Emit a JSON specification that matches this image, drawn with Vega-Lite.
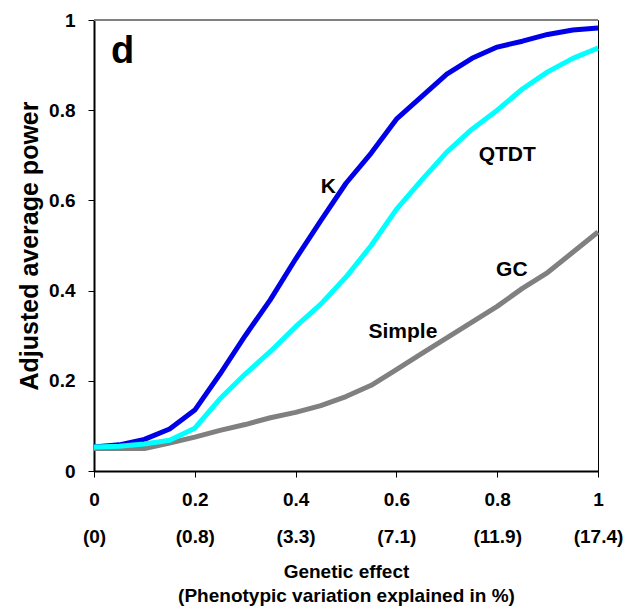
{
  "$schema": "https://vega.github.io/schema/vega-lite/v6.json",
  "width": 504,
  "height": 451,
  "autosize": "none",
  "padding": {"left": 94, "top": 20, "right": 27, "bottom": 140},
  "background": "white",
  "config": {
    "view": {"stroke": "black", "strokeWidth": 1},
    "font": "Liberation Sans",
    "axis": {
      "domainColor": "black",
      "domainWidth": 2,
      "tickColor": "black",
      "tickWidth": 1,
      "tickSize": 6,
      "grid": false,
      "labelFont": "Liberation Sans",
      "labelFontWeight": "bold",
      "labelFontSize": 19,
      "labelColor": "black",
      "titleFont": "Liberation Sans",
      "titleFontWeight": "bold",
      "titleColor": "black"
    }
  },
  "datasets": {
    "curves": [
      {"method": "K", "effect": 0, "power": 0.053},
      {"method": "K", "effect": 0.05, "power": 0.058},
      {"method": "K", "effect": 0.1, "power": 0.07},
      {"method": "K", "effect": 0.15, "power": 0.093},
      {"method": "K", "effect": 0.2, "power": 0.135},
      {"method": "K", "effect": 0.25, "power": 0.215},
      {"method": "K", "effect": 0.3, "power": 0.3},
      {"method": "K", "effect": 0.35, "power": 0.38},
      {"method": "K", "effect": 0.4, "power": 0.47},
      {"method": "K", "effect": 0.45, "power": 0.555},
      {"method": "K", "effect": 0.5, "power": 0.638},
      {"method": "K", "effect": 0.55, "power": 0.705},
      {"method": "K", "effect": 0.6, "power": 0.78},
      {"method": "K", "effect": 0.65, "power": 0.83},
      {"method": "K", "effect": 0.7, "power": 0.88},
      {"method": "K", "effect": 0.75, "power": 0.915},
      {"method": "K", "effect": 0.8, "power": 0.94},
      {"method": "K", "effect": 0.85, "power": 0.953},
      {"method": "K", "effect": 0.9, "power": 0.968},
      {"method": "K", "effect": 0.95, "power": 0.978},
      {"method": "K", "effect": 1, "power": 0.982},
      {"method": "GC", "effect": 0, "power": 0.05},
      {"method": "GC", "effect": 0.05, "power": 0.05},
      {"method": "GC", "effect": 0.1, "power": 0.05},
      {"method": "GC", "effect": 0.15, "power": 0.062},
      {"method": "GC", "effect": 0.2, "power": 0.075},
      {"method": "GC", "effect": 0.25, "power": 0.09},
      {"method": "GC", "effect": 0.3, "power": 0.103},
      {"method": "GC", "effect": 0.35, "power": 0.118},
      {"method": "GC", "effect": 0.4, "power": 0.13},
      {"method": "GC", "effect": 0.45, "power": 0.145},
      {"method": "GC", "effect": 0.5, "power": 0.165},
      {"method": "GC", "effect": 0.55, "power": 0.19},
      {"method": "GC", "effect": 0.6, "power": 0.225},
      {"method": "GC", "effect": 0.65, "power": 0.26},
      {"method": "GC", "effect": 0.7, "power": 0.295},
      {"method": "GC", "effect": 0.75, "power": 0.33},
      {"method": "GC", "effect": 0.8, "power": 0.365},
      {"method": "GC", "effect": 0.85, "power": 0.405},
      {"method": "GC", "effect": 0.9, "power": 0.44},
      {"method": "GC", "effect": 0.95, "power": 0.485},
      {"method": "GC", "effect": 1, "power": 0.53},
      {"method": "QTDT", "effect": 0, "power": 0.053},
      {"method": "QTDT", "effect": 0.05, "power": 0.055},
      {"method": "QTDT", "effect": 0.1, "power": 0.06},
      {"method": "QTDT", "effect": 0.15, "power": 0.068},
      {"method": "QTDT", "effect": 0.2, "power": 0.095},
      {"method": "QTDT", "effect": 0.25, "power": 0.16},
      {"method": "QTDT", "effect": 0.3, "power": 0.215},
      {"method": "QTDT", "effect": 0.35, "power": 0.265},
      {"method": "QTDT", "effect": 0.4, "power": 0.32},
      {"method": "QTDT", "effect": 0.45, "power": 0.37},
      {"method": "QTDT", "effect": 0.5, "power": 0.43},
      {"method": "QTDT", "effect": 0.55, "power": 0.5},
      {"method": "QTDT", "effect": 0.6, "power": 0.58},
      {"method": "QTDT", "effect": 0.65, "power": 0.645},
      {"method": "QTDT", "effect": 0.7, "power": 0.707},
      {"method": "QTDT", "effect": 0.75, "power": 0.758},
      {"method": "QTDT", "effect": 0.8, "power": 0.8},
      {"method": "QTDT", "effect": 0.85, "power": 0.847},
      {"method": "QTDT", "effect": 0.9, "power": 0.885},
      {"method": "QTDT", "effect": 0.95, "power": 0.915},
      {"method": "QTDT", "effect": 1, "power": 0.938}
    ],
    "labels": [
      {"text": "K", "effect": 0.465, "power": 0.63},
      {"text": "QTDT", "effect": 0.82, "power": 0.7},
      {"text": "Simple", "effect": 0.613, "power": 0.308},
      {"text": "GC", "effect": 0.829, "power": 0.446}
    ],
    "panel": [
      {"text": "d", "effect": 0.057, "power": 0.93}
    ]
  },
  "layer": [
    {
      "data": {"name": "curves"},
      "mark": {"type": "line", "strokeCap": "butt", "strokeJoin": "round"},
      "encoding": {
        "x": {
          "field": "effect", "type": "quantitative",
          "scale": {"domain": [0, 1], "nice": false},
          "axis": {
            "values": [0, 0.2, 0.4, 0.6, 0.8, 1],
            "labelExpr": "datum.value < 0.1 ? ['0', '(0)'] : datum.value < 0.3 ? ['0.2', '(0.8)'] : datum.value < 0.5 ? ['0.4', '(3.3)'] : datum.value < 0.7 ? ['0.6', '(7.1)'] : datum.value < 0.9 ? ['0.8', '(11.9)'] : ['1', '(17.4)']",
            "labelLineHeight": 37,
            "labelPadding": 13,
            "labelFlush": false,
            "labelOverlap": false,
            "title": ["Genetic effect", "(Phenotypic variation explained in %)"],
            "titleFontSize": 19,
            "titleLineHeight": 24,
            "titlePadding": 16
          }
        },
        "y": {
          "field": "power", "type": "quantitative",
          "scale": {"domain": [0, 1], "nice": false},
          "axis": {
            "values": [0, 0.2, 0.4, 0.6, 0.8, 1],
            "format": ".1~f",
            "labelPadding": 13,
            "labelFlush": false,
            "labelOverlap": false,
            "title": "Adjusted average power",
            "titleFontSize": 25,
            "titlePadding": 6
          }
        },
        "color": {
          "field": "method", "type": "nominal",
          "scale": {"domain": ["K", "GC", "QTDT"], "range": ["#0000E8", "#808080", "#00FFFF"]},
          "legend": null
        },
        "size": {
          "field": "method", "type": "nominal",
          "scale": {"domain": ["K", "GC", "QTDT"], "range": [5, 5, 4]},
          "legend": null
        }
      }
    },
    {
      "data": {"values": [{"top": 1}]},
      "mark": {"type": "rule", "color": "#808080", "strokeWidth": 2},
      "encoding": {"y": {"field": "top", "type": "quantitative"}}
    },
    {
      "data": {"name": "labels"},
      "mark": {"type": "text", "fontWeight": "bold", "fontSize": 21, "font": "Liberation Sans", "color": "black"},
      "encoding": {
        "x": {"field": "effect", "type": "quantitative"},
        "y": {"field": "power", "type": "quantitative"},
        "text": {"field": "text"}
      }
    },
    {
      "data": {"name": "panel"},
      "mark": {"type": "text", "fontWeight": "bold", "fontSize": 38, "font": "Liberation Sans", "color": "black"},
      "encoding": {
        "x": {"field": "effect", "type": "quantitative"},
        "y": {"field": "power", "type": "quantitative"},
        "text": {"field": "text"}
      }
    }
  ]
}
